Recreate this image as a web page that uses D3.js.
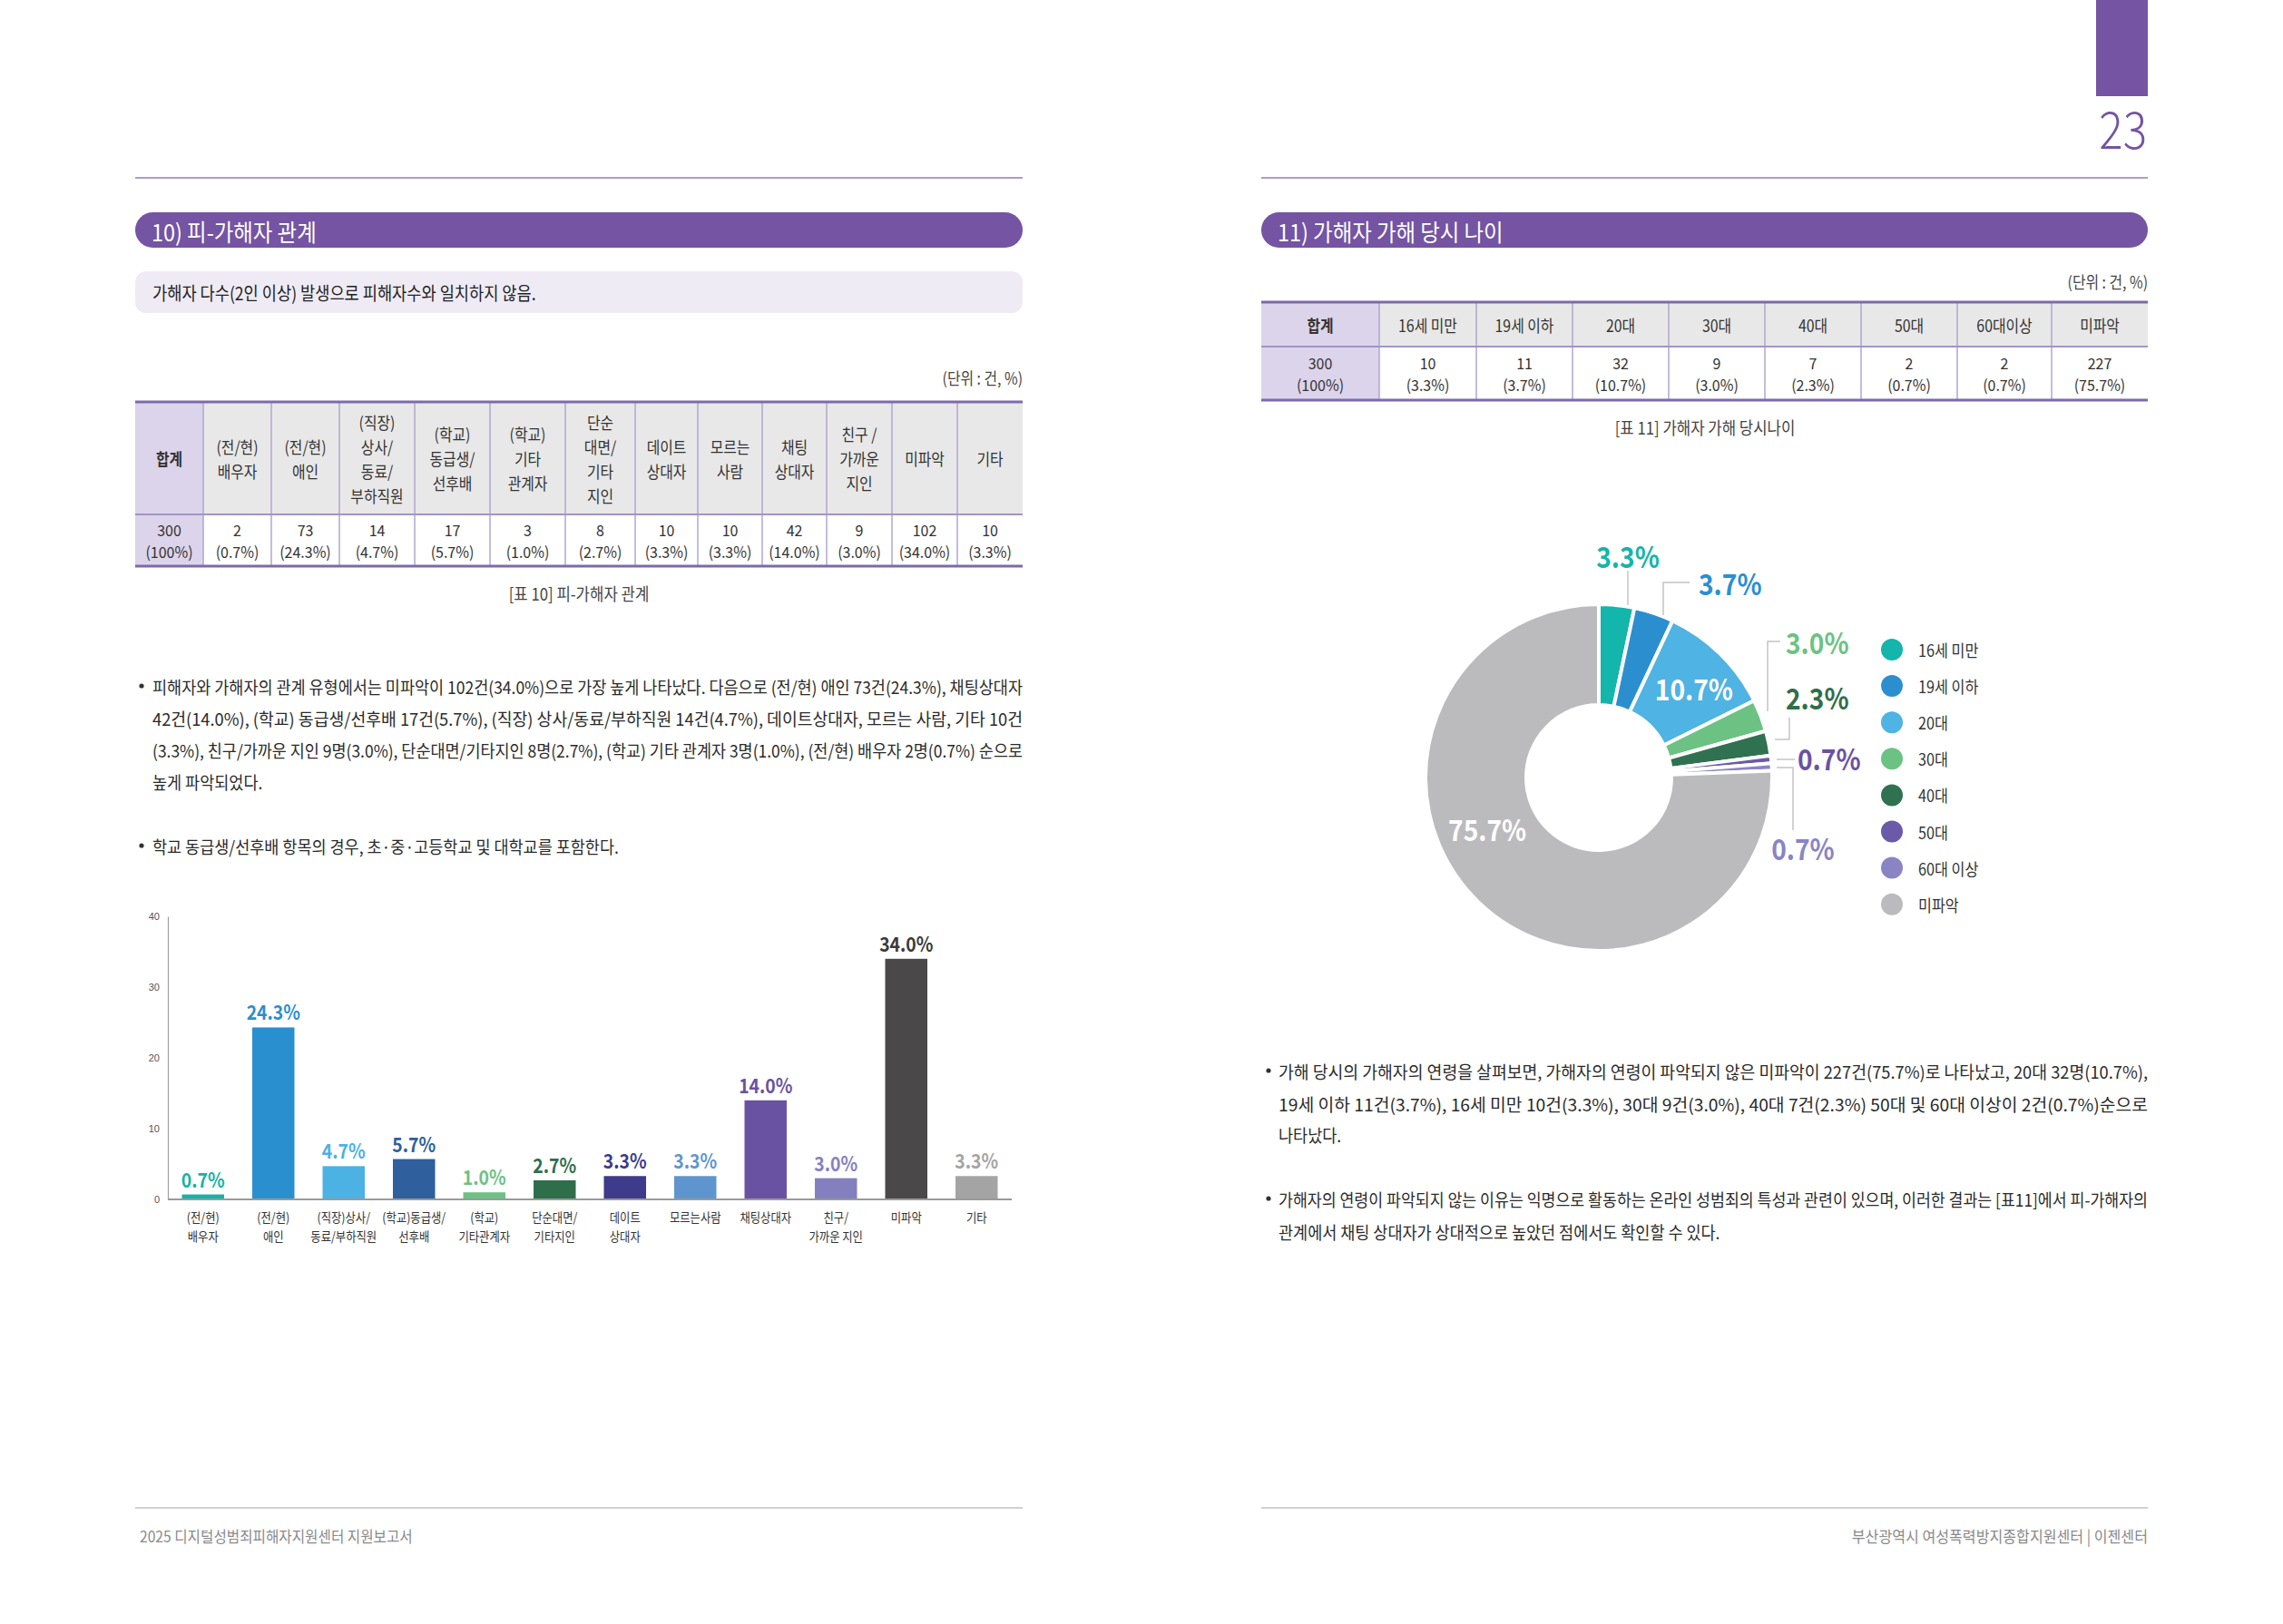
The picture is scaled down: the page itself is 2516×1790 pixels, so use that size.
<!DOCTYPE html>
<html>
<head>
<meta charset="utf-8">
<script src="https://cdn.jsdelivr.net/npm/d3@7"></script>
<style>
  html, body { margin: 0; padding: 0; background: #fff; }
  svg { display: block; font-family: "Noto Sans CJK KR", "Noto Sans", sans-serif; }
</style>
</head>
<body>
<svg id="page" width="2516" height="1790"></svg>
<script>
// ---- data: table 10 / bar chart (피-가해자 관계)
const relHead = [["합계"], ["(전/현)", "배우자"], ["(전/현)", "애인"], ["(직장)", "상사/", "동료/", "부하직원"],
  ["(학교)", "동급생/", "선후배"], ["(학교)", "기타", "관계자"], ["단순", "대면/", "기타", "지인"],
  ["데이트", "상대자"], ["모르는", "사람"], ["채팅", "상대자"], ["친구 /", "가까운", "지인"], ["미파악"], ["기타"]];
const relCounts = [300, 2, 73, 14, 17, 3, 8, 10, 10, 42, 9, 102, 10];
const relPct = [100, 0.7, 24.3, 4.7, 5.7, 1.0, 2.7, 3.3, 3.3, 14.0, 3.0, 34.0, 3.3];
const relAxis = [["(전/현)", "배우자"], ["(전/현)", "애인"], ["(직장)상사/", "동료/부하직원"], ["(학교)동급생/", "선후배"],
  ["(학교)", "기타관계자"], ["단순대면/", "기타지인"], ["데이트", "상대자"], ["모르는사람"], ["채팅상대자"],
  ["친구/", "가까운 지인"], ["미파악"], ["기타"]];
const yTicks = [0, 10, 20, 30, 40];

// ---- data: table 11 / donut (가해자 가해 당시 나이)
const ageHead = ["합계", "16세 미만", "19세 이하", "20대", "30대", "40대", "50대", "60대이상", "미파악"];
const ageCats = ["16세 미만", "19세 이하", "20대", "30대", "40대", "50대", "60대 이상", "미파악"];
const ageCounts = [300, 10, 11, 32, 9, 7, 2, 2, 227];
const agePct = [100, 3.3, 3.7, 10.7, 3.0, 2.3, 0.7, 0.7, 75.7];

// colours
const PURPLE = '#7454a3';
const barColors = ['#14b3a7', '#2a8fcf', '#4cb1e3', '#2f5f9c', '#6cc283', '#2f6e4a', '#3e3b8a', '#5f95cf', '#6a52a3', '#8480bf', '#4a4849', '#a4a4a4'];
const barLabelColors = ['#14b3a7', '#2a8fcf', '#4cb1e3', '#2f5f9c', '#6cc283', '#2f6e4a', '#3e3b8a', '#5f95cf', '#6a52a3', '#8480bf', '#3a3a3a', '#a4a4a4'];
const ageColors = ['#14b5ab', '#2b8fcf', '#4fb3e3', '#6cc283', '#2f7150', '#6a5aa8', '#8a84c4', '#bbbbbd'];
const donutLabelColors = ['#14b5ab', '#2b8fcf', '#fff', '#6cc283', '#2f6e4a', '#6a52a3', '#8a84c4', '#fff'];

const svg = d3.select('#page');

// the report font is narrow, so squeeze the glyphs a bit
function squeeze(sel, k) {
  sel.each(function () {
    const w = this.getComputedTextLength();
    if (w > 0) d3.select(this).attr('textLength', w * k).attr('lengthAdjust', 'spacingAndGlyphs');
  });
  return sel;
}

function txt(x, y, s, size, fill, anchor) {
  return svg.append('text')
    .attr('x', x).attr('y', y)
    .attr('dominant-baseline', 'central')
    .attr('text-anchor', anchor || 'start')
    .attr('font-size', size)
    .attr('fill', fill || '#333')
    .text(s);
}

const fmtPct = v => v === 100 ? '(100%)' : `(${v.toFixed(1)}%)`;

// ---- page frames
function frame(x0, x1, title) {
  svg.append('line').attr('x1', x0).attr('x2', x1).attr('y1', 196).attr('y2', 196)
    .attr('stroke', '#aa9dca').attr('stroke-width', 2);
  svg.append('rect').attr('x', x0).attr('y', 234).attr('width', x1 - x0).attr('height', 39)
    .attr('rx', 19.5).attr('fill', PURPLE);
  squeeze(txt(x0 + 18, 254, title, 26, '#fff'), 0.9);
  svg.append('line').attr('x1', x0).attr('x2', x1).attr('y1', 1662).attr('y2', 1662)
    .attr('stroke', '#d0d0d0').attr('stroke-width', 2);
}
frame(149, 1127, '10) 피-가해자 관계');
frame(1390, 2367, '11) 가해자 가해 당시 나이');

// page tab + number
svg.append('rect').attr('x', 2310).attr('y', 0).attr('width', 57).attr('height', 106).attr('fill', PURPLE);
squeeze(svg.append('text').attr('x', 2366).attr('y', 164).attr('text-anchor', 'end')
  .attr('font-size', 56).attr('font-weight', 300).attr('fill', PURPLE).text('23'), 0.88);

// note box
svg.append('rect').attr('x', 149).attr('y', 299).attr('width', 978).attr('height', 46).attr('rx', 12).attr('fill', '#efebf5');
squeeze(txt(168, 322, '가해자 다수(2인 이상) 발생으로 피해자수와 일치하지 않음.', 20, '#222'), 0.88);

// unit labels
squeeze(txt(1127, 416, '(단위 : 건, %)', 18, '#444', 'end'), 0.88);
squeeze(txt(2367, 310, '(단위 : 건, %)', 18, '#444', 'end'), 0.88);

// ---- tables
function table(edges, top, mid, bottom, head, body, headLH) {
  const g = svg.append('g');
  const n = edges.length - 1;
  for (let i = 0; i < n; i++) {
    const x0 = edges[i], w = edges[i + 1] - edges[i];
    g.append('rect').attr('x', x0).attr('y', top).attr('width', w).attr('height', mid - top)
      .attr('fill', i === 0 ? '#dcd4ea' : '#e8e8e8');
    g.append('rect').attr('x', x0).attr('y', mid).attr('width', w).attr('height', bottom - mid)
      .attr('fill', i === 0 ? '#dcd4ea' : '#fff');
    const cx = x0 + w / 2;
    const hl = head[i];
    const hc = (top + mid) / 2;
    hl.forEach((s, j) => {
      const t = g.append('text').attr('x', cx).attr('y', hc + (j - (hl.length - 1) / 2) * headLH)
        .attr('dominant-baseline', 'central').attr('text-anchor', 'middle')
        .attr('font-size', 18).attr('fill', '#333')
        .attr('font-weight', i === 0 ? 700 : 400).text(s);
      squeeze(t, 0.88);
    });
    const bl = body[i];
    const bc = (mid + bottom) / 2;
    bl.forEach((s, j) => {
      const t = g.append('text').attr('x', cx).attr('y', bc + (j - (bl.length - 1) / 2) * 24)
        .attr('dominant-baseline', 'central').attr('text-anchor', 'middle')
        .attr('font-size', 17).attr('fill', '#333').text(s);
      squeeze(t, 0.94);
    });
  }
  for (let i = 1; i < n; i++) {
    g.append('line').attr('x1', edges[i]).attr('x2', edges[i]).attr('y1', top).attr('y2', bottom)
      .attr('stroke', '#b0a6d0').attr('stroke-width', 1.5);
  }
  g.append('line').attr('x1', edges[0]).attr('x2', edges[n]).attr('y1', mid).attr('y2', mid)
    .attr('stroke', '#a095c6').attr('stroke-width', 2);
  [top, bottom].forEach(yy => g.append('line').attr('x1', edges[0]).attr('x2', edges[n])
    .attr('y1', yy).attr('y2', yy).attr('stroke', '#7c6aab').attr('stroke-width', 3));
}

table([149, 224, 299, 374, 457, 540, 623, 700, 769, 840, 911, 983, 1055, 1127], 443, 567, 624,
  relHead, relCounts.map((c, i) => [String(c), fmtPct(relPct[i])]), 27);
table([1390, 1520, 1627, 1733, 1839, 1945, 2051, 2157, 2261, 2367], 333, 382, 441,
  ageHead.map(s => [s]), ageCounts.map((c, i) => [String(c), fmtPct(agePct[i])]), 24);

squeeze(txt(638, 653, '[표 10] 피-가해자 관계', 19, '#444', 'middle'), 0.88);
squeeze(txt(1879, 470, '[표 11] 가해자 가해 당시나이', 19, '#444', 'middle'), 0.88);

// ---- paragraphs
function paragraph(bx, tx, right, lines) {
  lines.forEach(l => {
    if (l.bullet) svg.append('circle').attr('cx', bx).attr('cy', l.y).attr('r', 2.6).attr('fill', '#333');
    const t = txt(tx, l.y, l.s, 19, '#2a2a2a');
    if (l.justify) t.attr('textLength', right - tx).attr('lengthAdjust', 'spacingAndGlyphs');
    else squeeze(t, 0.92);
  });
}
paragraph(156, 168, 1127, [
  { y: 756, bullet: true, justify: true, s: '피해자와 가해자의 관계 유형에서는 미파악이 102건(34.0%)으로 가장 높게 나타났다. 다음으로 (전/현) 애인 73건(24.3%), 채팅상대자' },
  { y: 791, justify: true, s: '42건(14.0%), (학교) 동급생/선후배 17건(5.7%), (직장) 상사/동료/부하직원 14건(4.7%), 데이트상대자, 모르는 사람, 기타 10건' },
  { y: 826, justify: true, s: '(3.3%), 친구/가까운 지인 9명(3.0%), 단순대면/기타지인 8명(2.7%), (학교) 기타 관계자 3명(1.0%), (전/현) 배우자 2명(0.7%) 순으로' },
  { y: 861, s: '높게 파악되었다.' },
  { y: 932, bullet: true, s: '학교 동급생/선후배 항목의 경우, 초·중·고등학교 및 대학교를 포함한다.' }
]);
paragraph(1398, 1409, 2367, [
  { y: 1180, bullet: true, justify: true, s: '가해 당시의 가해자의 연령을 살펴보면, 가해자의 연령이 파악되지 않은 미파악이 227건(75.7%)로 나타났고, 20대 32명(10.7%),' },
  { y: 1216, justify: true, s: '19세 이하 11건(3.7%), 16세 미만 10건(3.3%), 30대 9건(3.0%), 40대 7건(2.3%) 50대 및 60대 이상이 2건(0.7%)순으로' },
  { y: 1250, s: '나타났다.' },
  { y: 1321, bullet: true, justify: true, s: '가해자의 연령이 파악되지 않는 이유는 익명으로 활동하는 온라인 성범죄의 특성과 관련이 있으며, 이러한 결과는 [표11]에서 피-가해자의' },
  { y: 1357, s: '관계에서 채팅 상대자가 상대적으로 높았던 점에서도 확인할 수 있다.' }
]);

// ---- bar chart
const barData = relPct.slice(1);
const x = d3.scaleBand().domain(d3.range(barData.length)).range([185, 1115]).paddingInner(0.4).paddingOuter(0.2);
const y = d3.scaleLinear().domain([0, 40]).range([1322, 1010]);

const gy = svg.append('g').attr('transform', 'translate(185,0)')
  .call(d3.axisLeft(y).tickValues(yTicks).tickSize(0).tickPadding(9));
gy.select('.domain').attr('stroke', '#a0a0a0').attr('stroke-width', 1.2);
gy.selectAll('text').attr('font-size', 11).attr('fill', '#555').attr('font-family', null);

svg.append('line').attr('x1', 185).attr('x2', 1115).attr('y1', y(0)).attr('y2', y(0))
  .attr('stroke', '#9a9a9a').attr('stroke-width', 2);

svg.append('g').selectAll('rect').data(barData).join('rect')
  .attr('x', (d, i) => x(i)).attr('width', x.bandwidth())
  .attr('y', d => y(d)).attr('height', d => y(0) - y(d) - 1)
  .attr('fill', (d, i) => barColors[i]);

svg.append('g').selectAll('text').data(barData).join('text')
  .attr('x', (d, i) => x(i) + x.bandwidth() / 2).attr('y', d => y(d) - 8)
  .attr('text-anchor', 'middle').attr('font-size', 22).attr('font-weight', 700)
  .attr('fill', (d, i) => barLabelColors[i])
  .text(d => d.toFixed(1) + '%')
  .call(sel => squeeze(sel, 0.88));

relAxis.forEach((lines, i) => {
  lines.forEach((s, j) => {
    squeeze(txt(x(i) + x.bandwidth() / 2, 1341 + j * 21, s, 14, '#333', 'middle'), 0.88);
  });
});

// ---- donut
const sliceData = agePct.slice(1);
const pie = d3.pie().sort(null).value(d => d);
const arc = d3.arc().innerRadius(80).outerRadius(191);
const dg = svg.append('g').attr('transform', 'translate(1762,857)');
const arcs = pie(sliceData);
dg.selectAll('path').data(arcs).join('path')
  .attr('d', arc).attr('fill', (d, i) => ageColors[i])
  .attr('stroke', '#fff').attr('stroke-width', 4).attr('stroke-linejoin', 'round');

// label placement (annotation layout, relative to the donut centre)
const donutLabelPos = [
  { x: 32, y: -245, anchor: 'middle', leader: [[32, -228], [32, -190]] },
  { x: 110, y: -215, anchor: 'start', leader: [[100, -215], [71, -215], [71, -179]] },
  { inside: true, dx: 10, dy: -2 },
  { x: 206, y: -150, anchor: 'start', leader: [[200, -150], [186, -150], [186, -73]] },
  { x: 206, y: -89, anchor: 'start', leader: [[210, -66], [210, -42], [194, -42]] },
  { x: 219, y: -22, anchor: 'start', leader: [[196, -20], [216, -20]] },
  { x: 225, y: 77, anchor: 'middle', leader: [[196, -11], [214, -11], [214, 58]] },
  { inside: true, dx: -29, dy: -42 }
];
arcs.forEach((a, i) => {
  const p = donutLabelPos[i];
  let lx, ly, anchor;
  if (p.inside) {
    const c = arc.centroid(a);
    lx = c[0] + p.dx; ly = c[1] + p.dy; anchor = 'middle';
  } else {
    lx = p.x; ly = p.y; anchor = p.anchor;
    dg.append('path').attr('d', d3.line()(p.leader)).attr('fill', 'none')
      .attr('stroke', '#c4c4c4').attr('stroke-width', 1.5);
  }
  const t = dg.append('text').attr('x', lx).attr('y', ly)
    .attr('dominant-baseline', 'central').attr('text-anchor', anchor)
    .attr('font-size', 32).attr('font-weight', 700).attr('fill', donutLabelColors[i])
    .text(a.data.toFixed(1) + '%');
  squeeze(t, 0.88);
});

// legend
const lg = svg.append('g').attr('transform', 'translate(2085,716)');
ageCats.forEach((c, i) => {
  lg.append('circle').attr('cx', 0).attr('cy', i * 40.1).attr('r', 12).attr('fill', ageColors[i]);
  squeeze(lg.append('text').attr('x', 29).attr('y', i * 40.1).attr('dominant-baseline', 'central')
    .attr('font-size', 18).attr('fill', '#333').text(c), 0.9);
});

// ---- footers
squeeze(txt(154, 1692, '2025 디지털성범죄피해자지원센터 지원보고서', 17, '#8a8a8a'), 0.92);
squeeze(txt(2367, 1692, '부산광역시 여성폭력방지종합지원센터   |   이젠센터', 17.5, '#8a8a8a', 'end'), 0.92);
</script>
</body>
</html>
